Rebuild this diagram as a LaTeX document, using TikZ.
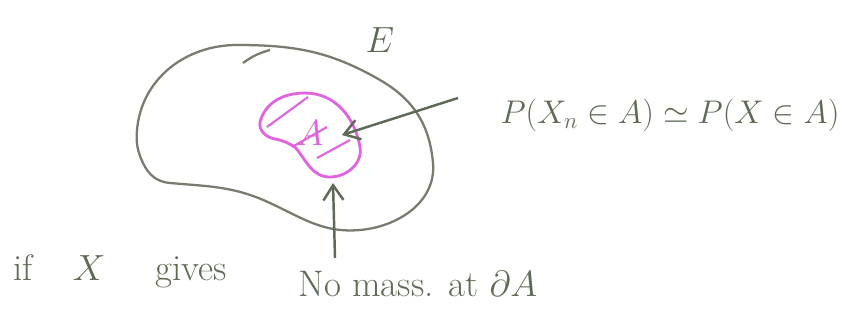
\documentclass[tikz,border=0pt]{standalone}
\usepackage{amsmath}
\usepackage{amssymb}
\usepackage{tikz}
\usetikzlibrary{
	arrows.meta,
	positioning
}
\definecolor{lapis}{HTML}{5E6A55}
\definecolor{contorno}{HTML}{7A7B70}
\definecolor{rosa}{HTML}{E063E0}

\begin{document}
\begin{tikzpicture}[
			texto/.style={text=lapis, font=\fontsize{21}{25}\selectfont, inner sep=1pt},
			borda/.style={draw=contorno, line width=1.3pt},
			regiao/.style={draw=rosa, line width=1.6pt},
			hachura/.style={draw=rosa, line width=1.2pt},
			fl/.style={-{Straight Barb[length=3mm,width=4mm]}, draw=lapis, line width=1.4pt}
		]
		\useasboundingbox (0,0) rectangle (17.14,6.54);

		% conjunto E
		\draw[borda] (2.74,3.94) to[out=85,in=180] (4.74,5.64) to[out=0,in=150] (7.6,4.94)
			to[out=-30,in=95] (8.66,3.28) to[out=-85,in=5] (7.2,1.94)
			to[out=185,in=-25] (5.4,2.48) to[out=155,in=-5] (3.4,2.88)
			to[out=175,in=-65] (2.86,3.28) to[out=115,in=-95] cycle;
		\draw[borda] (4.86,5.28) to[bend left=10] (5.4,5.54);
		\node[texto] (E) at (7.6,5.74) {$E$};

		% conjunto A
		\draw[regiao] (5.2,4.1) to[out=75,in=180] (6.1,4.68) to[out=0,in=100] (7.2,3.6)
			to[out=-80,in=0] (6.6,3.0) to[out=180,in=-50] (5.9,3.6)
			to[out=150,in=-10] (5.5,3.76) to[out=170,in=-100] cycle;
		\draw[hachura] (5.34,4.0) -- (6.16,4.6);
		\draw[hachura] (5.84,3.6) -- (6.54,4.0);
		\draw[hachura] (6.34,3.38) -- (7.0,3.74);
		\node[texto, text=rosa] (A) at (6.2,3.88) {$A$};

		\node[texto, scale=0.9] (prob) at (13.4,4.24) {$P(X_n \in A) \simeq P(X \in A)$};
		\node[texto] (se) at (2.4,1.12) {if\hspace{0.8cm}$X$\hspace{1cm}gives};
		\node[texto] (massa) at (8.36,0.86) {No mass. at $\partial A$};

		\coordinate (ini) at (9.16,4.58);
		\coordinate (bordaA) at (6.84,3.84);
		\coordinate (pe) at (6.7,1.38);
		\coordinate (topo) at (6.66,2.88);

		\draw[fl] (ini) -- (bordaA);
		\draw[fl] (pe) -- (topo);
	\end{tikzpicture}
\end{document}
